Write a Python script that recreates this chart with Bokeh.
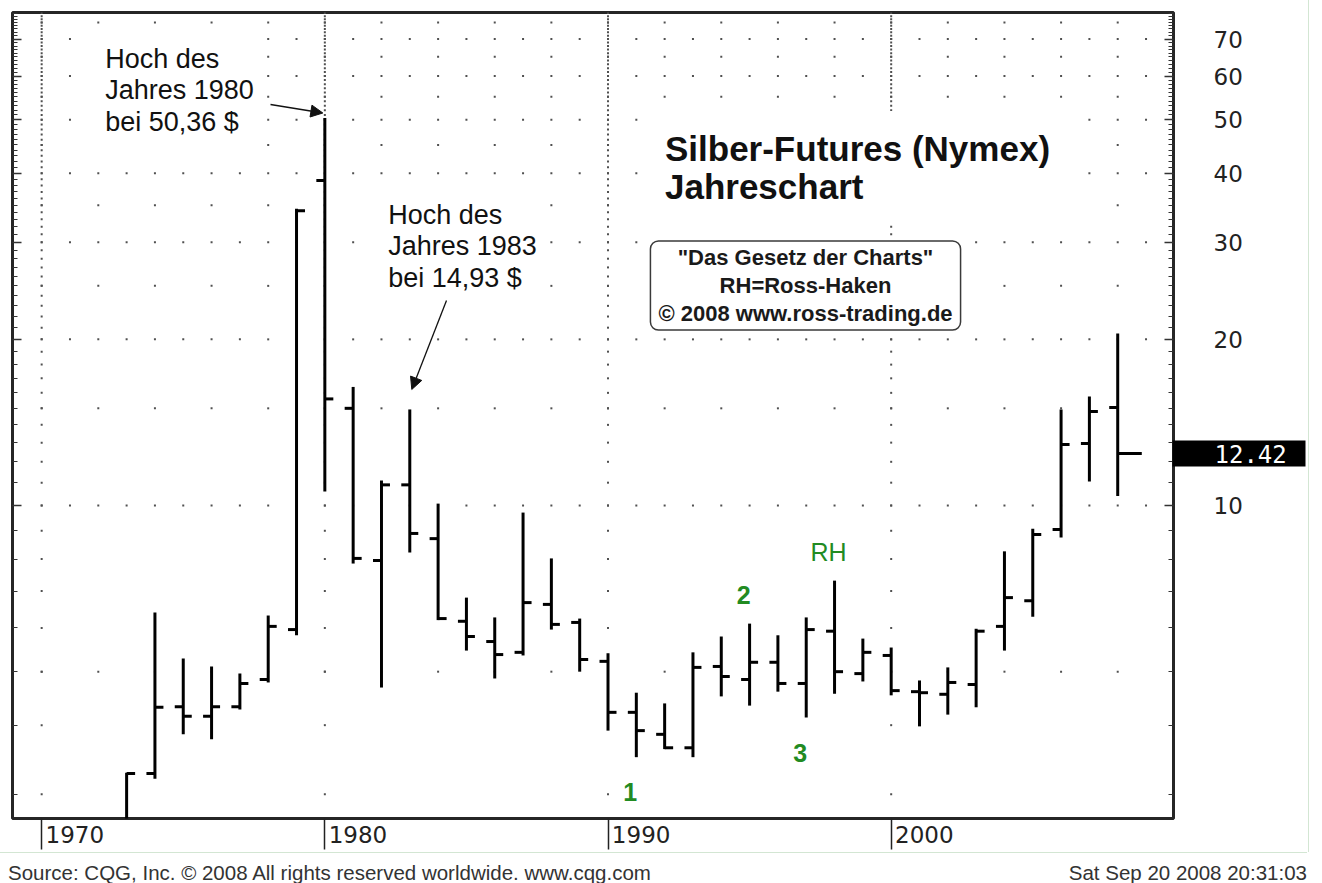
import math
from bokeh.plotting import figure
from bokeh.layouts import column
from bokeh.models import (ColumnDataSource, Range1d, LogAxis, FixedTicker,
                          PrintfTickFormatter, Label, Arrow, NormalHead, Div)
from bokeh.embed import file_html
from bokeh.resources import INLINE

# ---------------- data (yearly OHLC, silver futures) ----------------
years = list(range(1973, 2009))
opens = [1.98, 3.27, 4.32, 4.15, 4.32, 4.84, 5.96, 38.8, 15.0, 7.95, 10.9, 8.71,
         6.17, 5.67, 5.42, 6.62, 6.14, 5.22, 4.22, 3.85, 3.64, 5.11, 4.84, 5.20,
         4.76, 5.92, 4.96, 5.35, 4.60, 4.55, 4.74, 6.04, 6.72, 9.05, 12.95, 15.05]
highs = [3.28, 6.40, 5.28, 5.11, 4.96, 6.32, 34.5, 50.36, 16.4, 11.1, 14.93, 10.08,
         6.81, 6.27, 9.71, 8.02, 6.24, 5.40, 4.58, 4.38, 5.42, 5.79, 6.11, 5.82,
         6.27, 7.31, 5.74, 5.53, 4.82, 5.09, 5.98, 8.26, 9.08, 14.92, 15.76, 20.5]
lows = [1.95, 3.20, 3.85, 3.77, 4.27, 4.78, 5.82, 10.6, 7.85, 4.68, 8.22, 6.20,
        5.46, 4.86, 5.35, 5.96, 5.00, 3.91, 3.50, 3.62, 3.50, 4.51, 4.34, 4.60,
        4.13, 4.56, 4.80, 4.53, 3.98, 4.18, 4.31, 5.46, 6.29, 8.75, 11.05, 10.4]
closes = [3.27, 4.31, 4.15, 4.32, 4.76, 6.04, 34.2, 15.6, 8.02, 10.9, 8.9, 6.24,
          5.79, 5.37, 6.67, 6.09, 5.26, 4.22, 3.91, 3.64, 5.09, 4.90, 5.20, 4.76,
          5.96, 5.00, 5.42, 4.62, 4.58, 4.78, 5.92, 6.81, 8.86, 12.9, 14.8, 12.42]

price_ticks = [10, 20, 30, 40, 50, 60, 70]
price_minor = list(range(3, 79))
decades = [1970, 1980, 1990, 2000]
rows_every_year = [10, 20, 30, 40, 50, 60, 70]
rows_even_years = [5, 15, 25, 35, 45, 55, 65, 75]
marks = [("1", 1991, "low"), ("2", 1995, "high"), ("3", 1997, "low"), ("RH", 1998, "high")]
footer_left = "Source: CQG, Inc. \u00a9 2008 All rights reserved worldwide. www.cqg.com"
footer_right = "Sat Sep 20 2008 20:31:03"

# ---------------- geometry ----------------
FL, FT = 12, 12                      # frame left / top on the canvas
FRAME_W, FRAME_H = 1161, 806
RIGHT_W, BAND_H = 135, 34
X_LO, X_HI = 1968.97, 2009.97
Y_LO, Y_HI = 2.71, 78.2
LOG_HI = math.log10(Y_HI)
PPY = FRAME_W / (X_HI - X_LO)
DPX = FRAME_H / (LOG_HI - math.log10(Y_LO))

def xp(px):   # data x for a canvas pixel x
    return X_LO + (px - FL) / PPY

def yp(py):   # data y for a canvas pixel y
    return 10 ** (LOG_HI - (py - FT) / DPX)

def x_off(x, px):
    return x + px / PPY

def y_off(v, px):  # px > 0 : up
    return v * 10 ** (px / DPX)

SANS = "Liberation Sans"

p = figure(frame_width=FRAME_W, frame_height=FRAME_H,
           x_range=Range1d(X_LO, X_HI), y_range=Range1d(Y_LO, Y_HI),
           y_axis_type="log", y_axis_location="right",
           output_backend="svg", toolbar_location=None,
           min_border_left=FL, min_border_top=FT, min_border_right=RIGHT_W,
           min_border_bottom=BAND_H,
           background_fill_color="white", border_fill_color="white",
           outline_line_color="#262626", outline_line_width=3)
p.styles = {"box-shadow": "1px 0 0 0 #d3e6d3"}
p.xgrid.visible = False
p.ygrid.visible = False

# right price axis (nearest to the frame)
LABEL_FONT_PX = 23
ra = p.yaxis[0]
ra.ticker = FixedTicker(ticks=price_ticks, minor_ticks=price_minor)
ra.formatter = PrintfTickFormatter(format="%d")
ra.major_tick_in = 9
ra.major_tick_out = 0
ra.minor_tick_in = 5
ra.minor_tick_out = 0
ra.axis_line_color = None
ra.major_tick_line_color = "#333333"
ra.major_tick_line_width = 1.5
ra.minor_tick_line_color = "#333333"
ra.minor_tick_line_width = 1.2
ra.major_label_standoff = 40
ra.major_label_text_font = "DejaVu Sans"
ra.major_label_text_font_size = f"{LABEL_FONT_PX}px"
ra.major_label_text_color = "#222222"

# last-price marker: second right axis, its single tick drawn as a black bar
size_ra = 73                      # width taken by the first right axis panel
bar_len = RIGHT_W - 2
last_axis = LogAxis(ticker=FixedTicker(ticks=[closes[-1]], minor_ticks=[]),
                    formatter=PrintfTickFormatter(format="%.2f"),
                    major_tick_in=size_ra, major_tick_out=bar_len - size_ra,
                    minor_tick_in=0, minor_tick_out=0,
                    major_tick_line_color="black", major_tick_line_width=26,
                    major_tick_line_cap="butt", axis_line_color=None,
                    major_label_standoff=42 - bar_len,
                    major_label_text_font="DejaVu Sans Mono",
                    major_label_text_font_size="24px",
                    major_label_text_color="white")
p.add_layout(last_axis, "right")

# left tick-only axis
la = LogAxis(ticker=FixedTicker(ticks=price_ticks, minor_ticks=price_minor),
             major_label_overrides={t: "" for t in price_ticks},
             major_label_text_font_size="0px", major_label_standoff=0,
             major_tick_in=9, major_tick_out=0, minor_tick_in=5, minor_tick_out=0,
             axis_line_color=None, major_tick_line_color="#333333", major_tick_line_width=1.5,
             minor_tick_line_color="#333333", minor_tick_line_width=1.2)
p.add_layout(la, "left")

# time band: separators = minor ticks at the decades, labels = major ticks just right of them
label_shift = round(33 / PPY, 2)
label_pos = [round(d + label_shift, 2) for d in decades]
xa = p.xaxis[0]
xa.ticker = FixedTicker(ticks=label_pos, minor_ticks=decades)
xa.major_label_overrides = {lp: str(d) for lp, d in zip(label_pos, decades)}
xa.major_label_text_font = "DejaVu Sans"
xa.major_label_text_font_size = "23px"
xa.major_label_text_color = "#222222"
xa.major_tick_out = 0
xa.major_tick_in = 0
xa.major_tick_line_color = None
xa.minor_tick_out = BAND_H - 3
xa.minor_tick_in = 0
xa.minor_tick_line_color = "#222222"
xa.minor_tick_line_width = 1.5
xa.major_label_standoff = 7 - (BAND_H - 3)
xa.axis_line_color = None

# dotted grid
gx, gy = [], []
for d in decades:
    for v in price_minor:
        gx.append(d); gy.append(v)
for v in rows_every_year:
    for yr in range(1970, 2010):
        gx.append(yr); gy.append(v)
for v in rows_even_years:
    for yr in range(1970, 2010, 2):
        gx.append(yr); gy.append(v)
p.scatter(gx, gy, marker="square", size=2, fill_color="#505050", line_color=None)

# OHLC bars
src = ColumnDataSource(dict(
    year=years, open=opens, high=highs, low=lows, close=closes,
    xl=[y - 0.3 for y in years],
    xr=[y + 0.3 for y in years[:-1]] + [years[-1] + 0.85],
))
kw = dict(source=src, line_color="black", line_width=3, line_cap="butt")
p.segment(x0="year", y0="low", x1="year", y1="high", **kw)
p.segment(x0="xl", y0="open", x1="year", y1="open", **kw)
p.segment(x0="year", y0="close", x1="xr", y1="close", **kw)

# ---------------- annotations ----------------
i80 = years.index(1980)
i83 = years.index(1983)
fmt = lambda v: f"{v:.2f}".replace(".", ",")

for cx, cy, yr, hv in [(179, 90, 1980, highs[i80]), (462, 246, 1983, highs[i83])]:
    p.add_layout(Label(x=xp(cx), y=yp(cy), anchor="center", text_align="left",
                       text=f"Hoch des\nJahres {yr}\nbei {fmt(hv)} $",
                       text_font=SANS, text_font_size="27px", text_color="#111111",
                       text_line_height=1.06, background_fill_color="white", padding=10))

p.add_layout(Arrow(end=NormalHead(size=12, fill_color="#111111", line_color="#111111"),
                   x_start=xp(270), y_start=yp(104),
                   x_end=x_off(1980, -2), y_end=y_off(highs[i80], 5),
                   line_color="#111111", line_width=1.3))
p.add_layout(Arrow(end=NormalHead(size=12, fill_color="#111111", line_color="#111111"),
                   x_start=xp(446), y_start=yp(300),
                   x_end=x_off(1983, 2), y_end=y_off(highs[i83], 20),
                   line_color="#111111", line_width=1.3))

p.add_layout(Label(x=xp(857), y=yp(167), anchor="center", text_align="left",
                   text="Silber-Futures (Nymex)\nJahreschart",
                   text_font=SANS, text_font_style="bold", text_font_size="35px",
                   text_color="#111111", text_line_height=0.97,
                   background_fill_color="white", padding=18))

p.add_layout(Label(x=xp(805), y=yp(285), anchor="center", text_align="center",
                   text="\"Das Gesetz der Charts\"\nRH=Ross-Haken\n\u00a9 2008 www.ross-trading.de",
                   text_font=SANS, text_font_style="bold", text_font_size="22px",
                   text_color="#1a1a1a", text_line_height=1.12,
                   background_fill_color="white", border_line_color="#3a3a3a",
                   border_line_width=1.5, border_radius=8,
                   padding=dict(left=8, right=8, top=4, bottom=4)))

for txt, yr, side in marks:
    i = years.index(yr)
    if side == "low":
        yv = y_off(lows[i], -35)
    else:
        yv = y_off(highs[i], 29)
    p.add_layout(Label(x=x_off(yr, -6), y=yv, anchor="center", text_align="center",
                       text=txt, text_font=SANS,
                       text_font_style="normal" if txt == "RH" else "bold",
                       text_font_size="25px", text_color="#228B22"))

# footer line (below the chart)
footer = Div(
    text=(f'<div style="box-sizing:border-box;display:flex;justify-content:space-between;'
          f'width:1307px;font-family:\'Liberation Sans\';font-size:20.5px;color:#333333;'
          f'border-top:1.5px solid #d3e6d3;padding:5px 0 0 8px;white-space:nowrap;">'
          f'<span>{footer_left}</span><span>{footer_right}</span></div>'),
    width=FL + FRAME_W + RIGHT_W, height=29, margin=(0, 0, 0, 0))

layout = column(p, footer, spacing=0)
open("out.html", "w").write(file_html(layout, INLINE))
